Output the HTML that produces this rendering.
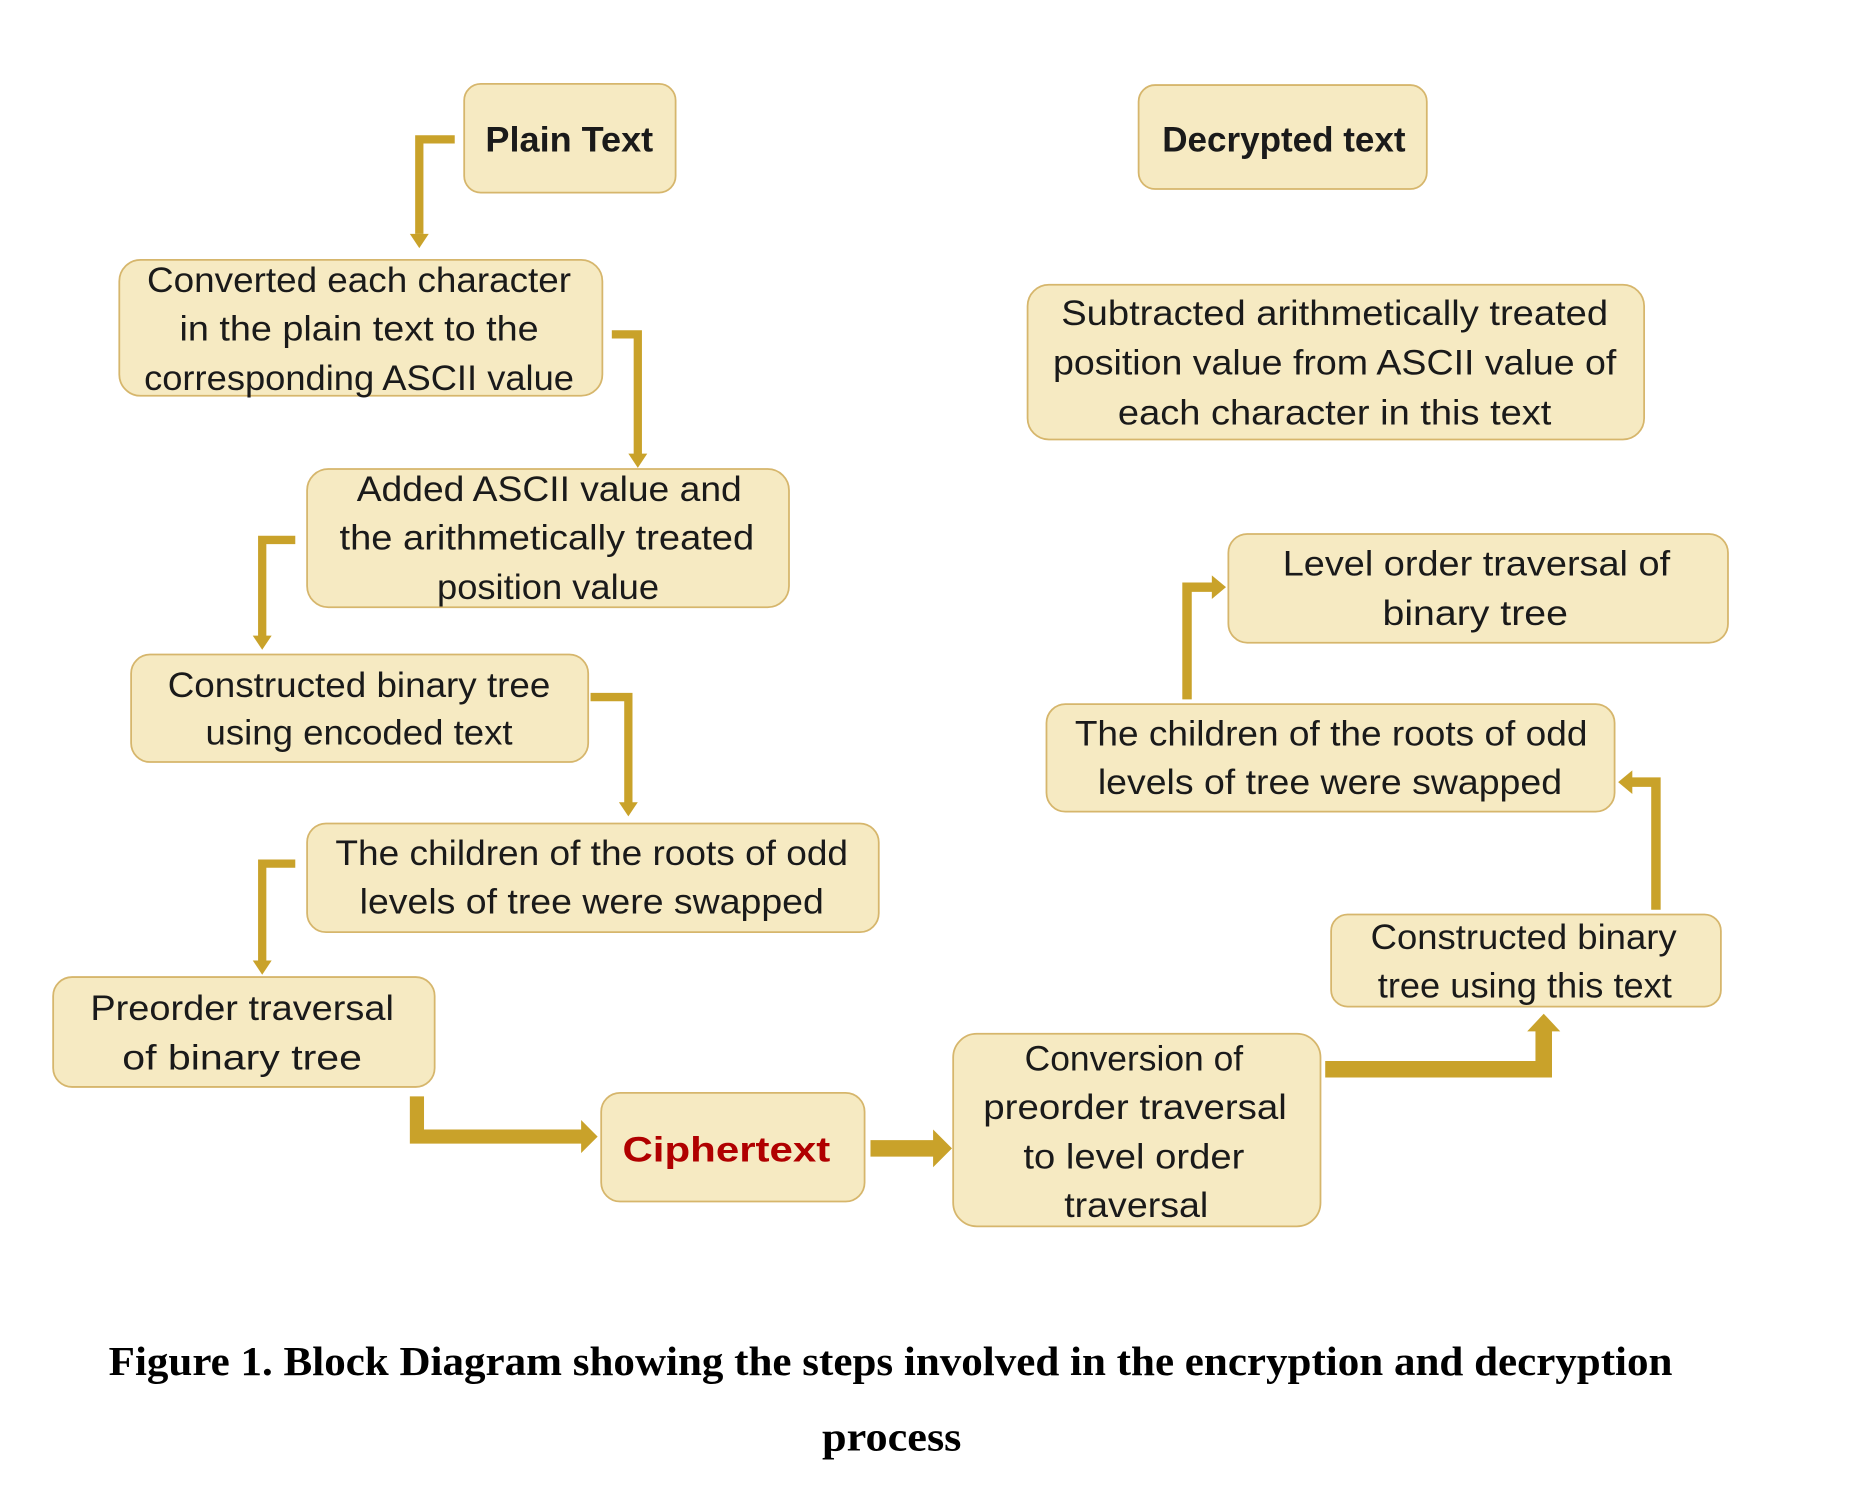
<!DOCTYPE html>
<html><head><meta charset="utf-8"><style>
html,body{margin:0;padding:0;background:#fff;width:1852px;height:1504px;overflow:hidden}
svg{display:block}
.b{fill:#f6eac2;stroke:#d6b66c;stroke-width:1.5}
.t{font-family:"Liberation Sans",sans-serif;font-size:30px;fill:#1a1a1a;text-anchor:middle;dominant-baseline:central}
.a{stroke:#c9a22a;fill:none}
.h{fill:#c9a22a}
.c{font-family:"Liberation Serif",serif;font-weight:bold;font-size:35px;fill:#000;text-anchor:middle;dominant-baseline:central}
</style></head><body>
<svg width="1852" height="1504" viewBox="0 0 1568 1273" preserveAspectRatio="none" xmlns="http://www.w3.org/2000/svg">
<g lengthAdjust="spacingAndGlyphs">
<rect class="b" x="393" y="71" width="179" height="92" rx="14"/>
<text class="t" x="482" y="118" font-weight="bold" textLength="142" lengthAdjust="spacingAndGlyphs">Plain Text</text>
<rect class="b" x="964" y="72" width="244" height="88" rx="14"/>
<text class="t" x="1087" y="118" font-weight="bold" textLength="206" lengthAdjust="spacingAndGlyphs">Decrypted text</text>

<rect class="b" x="101" y="220" width="409" height="115" rx="18"/>
<text class="t" x="304" y="237" textLength="359" lengthAdjust="spacingAndGlyphs">Converted each character</text>
<text class="t" x="304" y="278" textLength="304" lengthAdjust="spacingAndGlyphs">in the plain text to the</text>
<text class="t" x="304" y="320" textLength="364" lengthAdjust="spacingAndGlyphs">corresponding ASCII value</text>

<rect class="b" x="870" y="241" width="522" height="131" rx="18"/>
<text class="t" x="1130" y="265" textLength="463" lengthAdjust="spacingAndGlyphs">Subtracted arithmetically treated</text>
<text class="t" x="1130" y="307" textLength="477" lengthAdjust="spacingAndGlyphs">position value from ASCII value of</text>
<text class="t" x="1130" y="349" textLength="367" lengthAdjust="spacingAndGlyphs">each character in this text</text>

<rect class="b" x="260" y="397" width="408" height="117" rx="18"/>
<text class="t" x="465" y="414" textLength="326" lengthAdjust="spacingAndGlyphs">Added ASCII value and</text>
<text class="t" x="463" y="455" textLength="351" lengthAdjust="spacingAndGlyphs">the arithmetically treated</text>
<text class="t" x="464" y="497" textLength="188" lengthAdjust="spacingAndGlyphs">position value</text>

<rect class="b" x="1040" y="452" width="423" height="92" rx="16"/>
<text class="t" x="1250" y="477" textLength="328" lengthAdjust="spacingAndGlyphs">Level order traversal of</text>
<text class="t" x="1249" y="519" textLength="157" lengthAdjust="spacingAndGlyphs">binary tree</text>

<rect class="b" x="111" y="554" width="387" height="91" rx="16"/>
<text class="t" x="304" y="580" textLength="324" lengthAdjust="spacingAndGlyphs">Constructed binary tree</text>
<text class="t" x="304" y="620" textLength="260" lengthAdjust="spacingAndGlyphs">using encoded text</text>

<rect class="b" x="886" y="596" width="481" height="91" rx="16"/>
<text class="t" x="1127" y="621" textLength="434" lengthAdjust="spacingAndGlyphs">The children of the roots of odd</text>
<text class="t" x="1126" y="662" textLength="393" lengthAdjust="spacingAndGlyphs">levels of tree were swapped</text>

<rect class="b" x="260" y="697" width="484" height="92" rx="16"/>
<text class="t" x="501" y="722" textLength="434" lengthAdjust="spacingAndGlyphs">The children of the roots of odd</text>
<text class="t" x="501" y="763" textLength="393" lengthAdjust="spacingAndGlyphs">levels of tree were swapped</text>

<rect class="b" x="1127" y="774" width="330" height="78" rx="14"/>
<text class="t" x="1290" y="793" textLength="259" lengthAdjust="spacingAndGlyphs">Constructed binary</text>
<text class="t" x="1291" y="834" textLength="249" lengthAdjust="spacingAndGlyphs">tree using this text</text>

<rect class="b" x="45" y="827" width="323" height="93" rx="16"/>
<text class="t" x="205" y="853" textLength="257" lengthAdjust="spacingAndGlyphs">Preorder traversal</text>
<text class="t" x="205" y="895" textLength="203" lengthAdjust="spacingAndGlyphs">of  binary tree</text>

<rect class="b" x="509" y="925" width="223" height="92" rx="16"/>
<text class="t" x="615" y="973" font-weight="bold" font-size="36" style="fill:#b00000" textLength="176" lengthAdjust="spacingAndGlyphs">Ciphertext</text>

<rect class="b" x="807" y="875" width="311" height="163" rx="20"/>
<text class="t" x="960" y="896" textLength="185" lengthAdjust="spacingAndGlyphs">Conversion of</text>
<text class="t" x="961" y="937" textLength="257" lengthAdjust="spacingAndGlyphs">preorder traversal</text>
<text class="t" x="960" y="979" textLength="187" lengthAdjust="spacingAndGlyphs">to level order</text>
<text class="t" x="962" y="1020" textLength="122" lengthAdjust="spacingAndGlyphs">traversal</text>
</g>

<polyline class="a" stroke-width="7" points="385,118 355,118 355,198"/>
<polygon class="h" points="347,198 363,198 355,210"/>
<polyline class="a" stroke-width="7" points="518,283 540,283 540,385"/>
<polygon class="h" points="532,384 548,384 540,396"/>
<polyline class="a" stroke-width="7" points="250,457 222,457 222,539"/>
<polygon class="h" points="214,538 230,538 222,550"/>
<polyline class="a" stroke-width="7" points="500,590 532,590 532,680"/>
<polygon class="h" points="524,679 540,679 532,691"/>
<polyline class="a" stroke-width="7" points="250,731 222,731 222,814"/>
<polygon class="h" points="214,813 230,813 222,825"/>
<polyline class="a" stroke-width="12" points="353,928 353,962 494,962"/>
<polygon class="h" points="492,948 506,962 492,976"/>
<line class="a" stroke-width="14" x1="737" y1="972" x2="792" y2="972"/>
<polygon class="h" points="790,956 806,972 790,988"/>
<polyline class="a" stroke-width="14" points="1122,905 1307,905 1307,872"/>
<polygon class="h" points="1293,873 1307,858 1321,873"/>
<polyline class="a" stroke-width="8" points="1402,770 1402,662 1381,662"/>
<polygon class="h" points="1382,652 1370,662 1382,672"/>
<polyline class="a" stroke-width="8" points="1005,592 1005,497 1027,497"/>
<polygon class="h" points="1026,487 1038,497 1026,507"/>

<text class="c" x="754" y="1152" textLength="1324" lengthAdjust="spacingAndGlyphs">Figure 1. Block Diagram showing the steps involved in the encryption and decryption</text>
<text class="c" x="755" y="1216" textLength="118" lengthAdjust="spacingAndGlyphs">process</text>
</svg>
</body></html>
